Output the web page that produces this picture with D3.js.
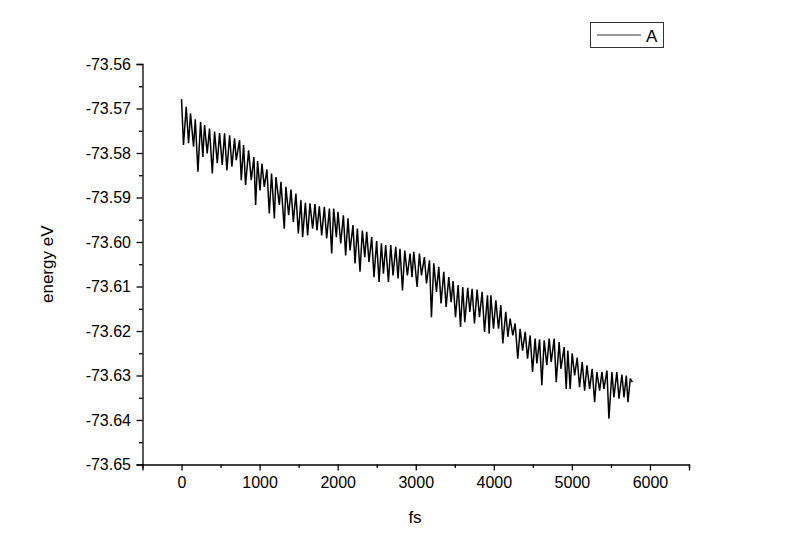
<!DOCTYPE html>
<html>
<head>
<meta charset="utf-8">
<script src="https://cdn.jsdelivr.net/npm/d3@7"></script>
<style>
  html, body { margin: 0; padding: 0; background: #fff; }
  svg { display: block; font-family: "Liberation Sans", Arial, sans-serif; }
</style>
</head>
<body>
<div id="chart"></div>
<script>
// time (fs) and energy (eV) of each upper crest
const peakTime = [0, 60, 115, 176, 244, 295, 358, 423, 487, 551, 616, 679, 743, 795, 859, 927,
  974, 1030, 1094, 1153, 1209, 1273, 1337, 1402, 1465, 1529, 1586, 1645, 1709, 1765, 1829, 1894,
  1949, 2004, 2073, 2132, 2196, 2252, 2316, 2372, 2436, 2499, 2560, 2615, 2680, 2744, 2798, 2859, 2927,
  2975, 3047, 3111, 3176, 3231, 3295, 3359, 3423, 3478, 3543, 3602, 3666, 3722, 3786, 3850, 3919,
  3962, 4026, 4090, 4153, 4209, 4273, 4337, 4402, 4465, 4529, 4586, 4645, 4709, 4773, 4837, 4901,
  4948, 5004, 5068, 5132, 5193, 5260, 5320, 5385, 5449, 5513, 5576, 5641, 5697, 5748];
const peakEnergy = [-73.5679, -73.5696, -73.5711, -73.5724, -73.5730, -73.5737, -73.5745, -73.5752,
  -73.5755, -73.5756, -73.5760, -73.5767, -73.5771, -73.5782, -73.5794, -73.5809,
  -73.5818, -73.5824, -73.5837, -73.5846, -73.5854, -73.5865, -73.5876, -73.5882,
  -73.5891, -73.5906, -73.5912, -73.5913, -73.5915, -73.5920, -73.5921, -73.5925,
  -73.5925, -73.5932, -73.5940, -73.5947, -73.5962, -73.5970, -73.5974, -73.5977,
  -73.5989, -73.5998, -73.6003, -73.6007, -73.6007, -73.6011, -73.6015, -73.6019, -73.6026,
  -73.6022, -73.6026, -73.6034, -73.6041, -73.6048, -73.6056, -73.6067, -73.6079,
  -73.6088, -73.6097, -73.6101, -73.6103, -73.6105, -73.6107, -73.6112, -73.6120,
  -73.6120, -73.6131, -73.6142, -73.6157, -73.6172, -73.6183, -73.6195, -73.6202,
  -73.6210, -73.6217, -73.6219, -73.6221, -73.6217, -73.6217, -73.6225, -73.6236,
  -73.6244, -73.6250, -73.6260, -73.6270, -73.6277, -73.6285, -73.6292, -73.6292,
  -73.6289, -73.6292, -73.6292, -73.6298, -73.6300, -73.6307];

// downward spikes that follow each crest
const spikeTime = [25, 90, 154, 210, 273, 329, 394, 458, 521, 581, 645, 701, 765, 820, 893, 949,
  1005, 1060, 1124, 1189, 1253, 1316, 1372, 1432, 1496, 1551, 1615, 1679, 1735, 1795, 1859, 1923,
  1983, 2039, 2102, 2158, 2222, 2286, 2347, 2401, 2465, 2530, 2586, 2650, 2709, 2773, 2830, 2893, 2952,
  3017, 3073, 3138, 3201, 3265, 3324, 3389, 3453, 3509, 3573, 3628, 3693, 3752, 3816, 3881, 3940,
  3996, 4060, 4115, 4180, 4243, 4307, 4368, 4432, 4496, 4551, 4615, 4679, 4735, 4799, 4859, 4927,
  4978, 5035, 5098, 5163, 5227, 5291, 5355, 5410, 5474, 5538, 5603, 5667, 5718];
const spikeEnergy = [-73.5782, -73.5778, -73.5786, -73.5842, -73.5809, -73.5801, -73.5846, -73.5823,
  -73.5827, -73.5839, -73.5831, -73.5816, -73.5861, -73.5872, -73.5861, -73.5917,
  -73.5884, -73.5876, -73.5936, -73.5947, -73.5917, -73.5970, -73.5940, -73.5955,
  -73.5981, -73.5989, -73.5985, -73.5970, -73.5974, -73.5985, -73.5992, -73.6026,
  -73.5989, -73.6003, -73.6030, -73.6019, -73.6048, -73.6067, -73.6034, -73.6045,
  -73.6079, -73.6090, -73.6071, -73.6090, -73.6075, -73.6082, -73.6109, -73.6075, -73.6079,
  -73.6101, -73.6075, -73.6093, -73.6169, -73.6112, -73.6138, -73.6146, -73.6135,
  -73.6169, -73.6191, -73.6180, -73.6157, -73.6183, -73.6169, -73.6202, -73.6206,
  -73.6195, -73.6195, -73.6228, -73.6213, -73.6210, -73.6262, -73.6244, -73.6262,
  -73.6292, -73.6273, -73.6322, -73.6277, -73.6270, -73.6315, -73.6285, -73.6330,
  -73.6330, -73.6300, -73.6326, -73.6334, -73.6330, -73.6360, -73.6334, -73.6330,
  -73.6397, -73.6349, -73.6352, -73.6349, -73.6360];

const lastPoint = { t: 5775, e: -73.6315 };

const xMajorTicks = [0, 1000, 2000, 3000, 4000, 5000, 6000];
const xMinorTicks = [-500, 500, 1500, 2500, 3500, 4500, 5500, 6500];
const yMajorTicks = [-73.56, -73.57, -73.58, -73.59, -73.60, -73.61, -73.62, -73.63, -73.64, -73.65];
const yMinorTicks = [-73.565, -73.575, -73.585, -73.595, -73.605, -73.615, -73.625, -73.635, -73.645];

const seriesName = "A";
const xTitle = "fs";
const yTitle = "energy eV";

(function () {
  const width = 800, height = 555;
  const left = 142.5, right = 689, top = 64, bottom = 464.5;

  const svg = d3.select("#chart").append("svg")
    .attr("width", width)
    .attr("height", height);

  const x = d3.scaleLinear().domain([-500, 6500]).range([left, right]);
  const y = d3.scaleLinear().domain([-73.65, -73.56]).range([bottom, top]);

  // crest -> spike -> next crest ...
  const points = [];
  peakTime.forEach((t, i) => {
    points.push({ t, e: peakEnergy[i] });
    if (i < spikeTime.length) points.push({ t: spikeTime[i], e: spikeEnergy[i] });
  });
  points.push(lastPoint);

  const line = d3.line().x(d => x(d.t)).y(d => y(d.e));

  svg.append("path")
    .datum(points)
    .attr("fill", "none")
    .attr("stroke", "#000")
    .attr("stroke-width", 1.5)
    .attr("stroke-linejoin", "bevel")
    .attr("d", line);

  // x axis
  svg.append("g").attr("transform", `translate(0,${bottom})`)
    .call(d3.axisBottom(x).tickValues(xMajorTicks).tickSize(6).tickPadding(6.5).tickFormat(d => String(d)));
  svg.append("g").attr("transform", `translate(0,${bottom})`)
    .call(d3.axisBottom(x).tickValues(xMinorTicks).tickSize(3.5).tickFormat(""))
    .select(".domain").remove();

  // y axis
  svg.append("g").attr("transform", `translate(${left},0)`)
    .call(d3.axisLeft(y).tickValues(yMajorTicks).tickSize(6).tickPadding(5.5).tickFormat(d => d.toFixed(2)));
  svg.append("g").attr("transform", `translate(${left},0)`)
    .call(d3.axisLeft(y).tickValues(yMinorTicks).tickSize(3.5).tickFormat(""))
    .select(".domain").remove();

  svg.selectAll(".domain").attr("stroke", "#000").attr("stroke-width", 1.3);
  svg.selectAll(".tick line").attr("stroke", "#000").attr("stroke-width", 1.3);
  svg.selectAll(".tick text")
    .attr("fill", "#000")
    .style("font-family", "'Liberation Sans', Arial, sans-serif")
    .style("font-size", "16px");

  // axis titles
  svg.append("text")
    .attr("x", 415)
    .attr("y", 523)
    .attr("text-anchor", "middle")
    .style("font-size", "17px")
    .text(xTitle);

  svg.append("text")
    .attr("transform", `translate(53,${(top + bottom) / 2}) rotate(-90)`)
    .attr("text-anchor", "middle")
    .style("font-size", "17px")
    .text(yTitle);

  // legend
  const lg = svg.append("g");
  lg.append("rect")
    .attr("x", 590.5).attr("y", 22.5)
    .attr("width", 73).attr("height", 25)
    .attr("fill", "#fff")
    .attr("stroke", "#333")
    .attr("stroke-width", 1);
  lg.append("line")
    .attr("x1", 597).attr("x2", 641)
    .attr("y1", 35).attr("y2", 35)
    .attr("stroke", "#000")
    .attr("stroke-width", 0.8);
  lg.append("text")
    .attr("x", 646).attr("y", 42)
    .style("font-size", "17px")
    .text(seriesName);
})();
</script>
</body>
</html>
